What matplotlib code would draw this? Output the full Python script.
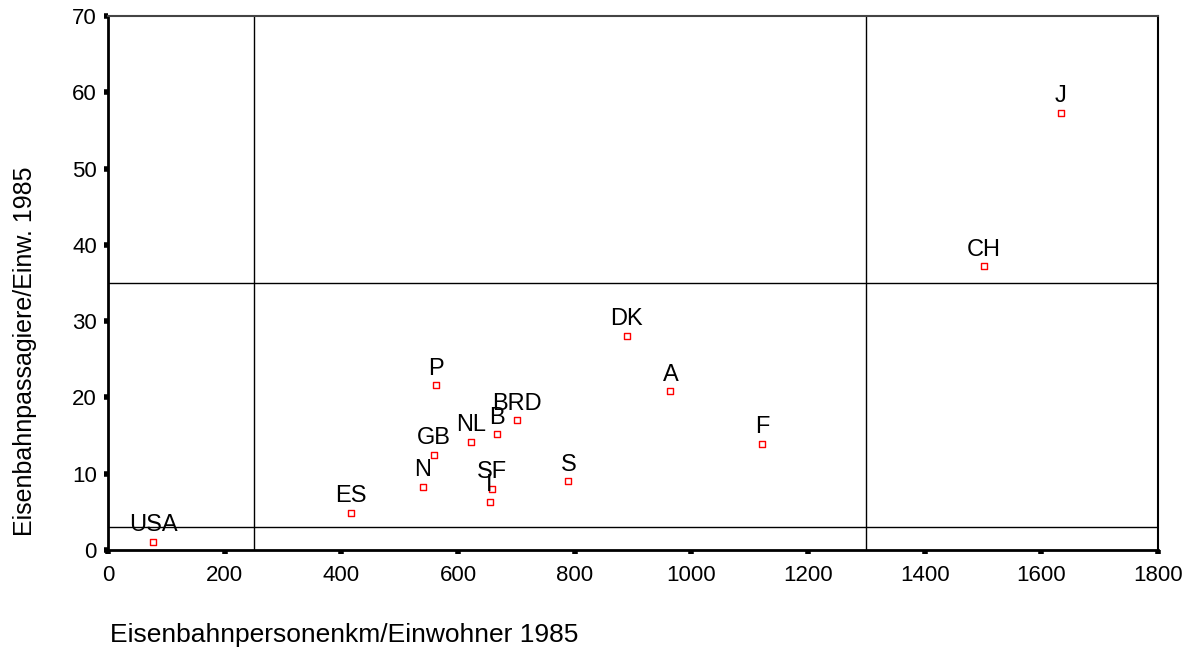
import matplotlib
matplotlib.use("Agg")
import matplotlib.pyplot as plt

plt.rcParams['font.family'] = ['Liberation Sans', 'DejaVu Sans']

# Eisenbahn 1985: Personenkm je Einwohner vs. Passagiere je Einwohner
laender = ['USA', 'ES', 'N', 'GB', 'P', 'NL', 'B', 'BRD', 'SF', 'I',
           'S', 'DK', 'A', 'F', 'CH', 'J']
personenkm = [77, 416, 540, 559, 563, 622, 667, 701, 659, 654,
              789, 889, 964, 1121, 1501, 1633]
passagiere = [1.1, 4.9, 8.3, 12.5, 21.6, 14.2, 15.2, 17.0, 8.0, 6.3,
              9.0, 28.1, 20.8, 13.9, 37.2, 57.3]

# Trennlinien
vlinien = [250, 1300]
hlinien = [3, 35]

fig = plt.figure(figsize=(11.91, 6.52), dpi=100)
ax = fig.add_axes([0.0907, 0.1564, 0.8816, 0.8191])

ax.scatter(personenkm, passagiere, marker='s', s=18, facecolors='white',
           edgecolors='red', linewidths=1.0, zorder=3)
for name, x, y in zip(laender, personenkm, passagiere):
    ax.annotate(name, (x, y), xytext=(0, 4), textcoords='offset points',
                ha='center', va='bottom', fontsize=17, zorder=4)

for v in vlinien:
    ax.axvline(v, color='black', lw=1.0, zorder=1)
for h in hlinien:
    ax.axhline(h, color='black', lw=1.0, zorder=1)

ax.set_xlim(0, 1800)
ax.set_ylim(0, 70)
ax.set_xticks(range(0, 1801, 200))
ax.set_yticks(range(0, 71, 10))
ax.tick_params(direction='out', length=3, width=4, labelsize=16)
ax.tick_params(axis='x', pad=8)
ax.tick_params(axis='y', pad=5)

for s in ['left', 'bottom']:
    ax.spines[s].set_linewidth(2.0)
for s in ['top', 'right']:
    ax.spines[s].set_linewidth(1.5)
ax.spines['top'].set_color('#444444')

fig.text(0.0925, 0.008, 'Eisenbahnpersonenkm/Einwohner 1985', fontsize=19,
         ha='left', va='bottom')
fig.text(0.021, 0.462, 'Eisenbahnpassagiere/Einw. 1985', fontsize=18,
         rotation=90, ha='center', va='center')

fig.savefig('out.png', dpi=100)
